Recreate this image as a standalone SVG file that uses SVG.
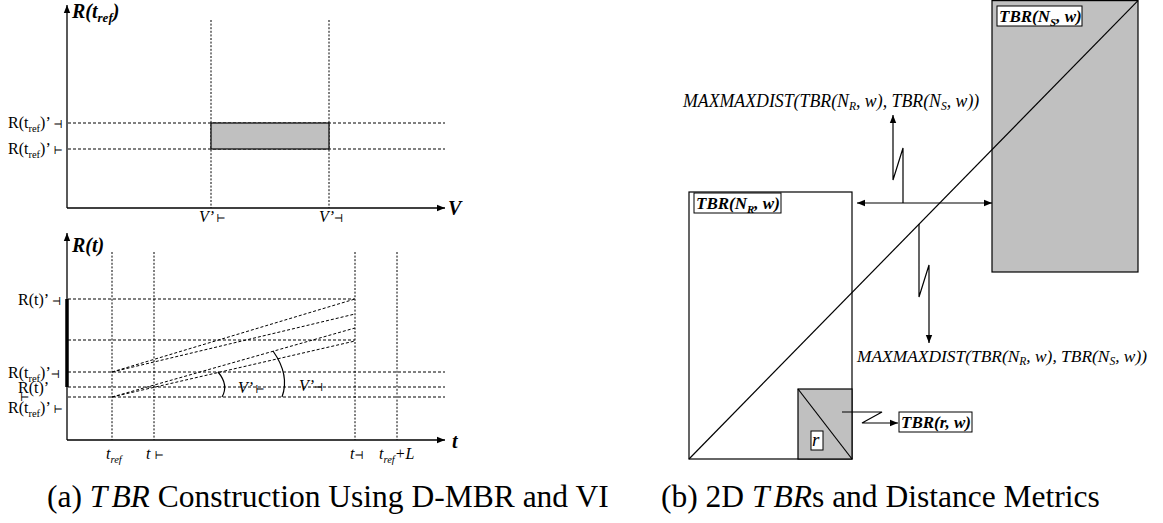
<svg xmlns="http://www.w3.org/2000/svg" width="1163" height="523" viewBox="0 0 1163 523" font-family="'Liberation Serif', 'Times New Roman', 'DejaVu Serif', serif">
<style>
.ax{stroke:#000;stroke-width:1.3;fill:none}
.dot{stroke:#000;stroke-width:1;stroke-dasharray:2,1.6;fill:none}
.dash{stroke:#000;stroke-width:1;stroke-dasharray:3,2;fill:none}
.ln{stroke:#000;stroke-width:1.2;fill:none}
.gray{fill:#c0c0c0;stroke:#000;stroke-width:1.2}
.box{fill:#fff;stroke:#000;stroke-width:1}
text{font-family:'Liberation Serif','Times New Roman','DejaVu Serif',serif;fill:#000}
.it{font-style:italic}
.bi{font-style:italic;font-weight:bold}
.lab{font-size:16px}
.cap{font-size:31.5px}
.tk{font-size:11px;font-style:italic}
</style>
<defs>
<marker id="ah" viewBox="0 0 10 10" refX="10" refY="5" markerWidth="8" markerHeight="8" markerUnits="userSpaceOnUse" orient="auto-start-reverse">
<path d="M0,1 L10,5 L0,9 z" fill="#000"/>
</marker>
</defs>

<g id="plot-top">
<line class="ax" x1="67" y1="208" x2="67" y2="5" marker-end="url(#ah)"/>
<line class="ax" x1="67" y1="208" x2="445" y2="208" marker-end="url(#ah)"/>
<line class="dot" x1="211" y1="20" x2="211" y2="208"/>
<line class="dot" x1="329" y1="20" x2="329" y2="208"/>
<line class="dash" x1="68" y1="123" x2="445" y2="123"/>
<line class="dash" x1="68" y1="149" x2="445" y2="149"/>
<rect class="gray" x="211" y="123" width="118" height="26"/>
<text class="bi" x="72" y="18" font-size="20">R(t<tspan font-size="13" dy="4">ref</tspan><tspan dy="-4">)</tspan></text>
<text class="bi" x="448" y="215" font-size="20">V</text>
<text class="lab" x="8" y="128">R(t<tspan font-size="10.5" dy="4">ref</tspan><tspan dy="-4">)’ </tspan><tspan class="tk">⊣</tspan></text>
<text class="lab" x="8" y="154">R(t<tspan font-size="10.5" dy="4">ref</tspan><tspan dy="-4">)’ </tspan><tspan class="tk">⊢</tspan></text>
<text class="lab it" x="199" y="222">V’ <tspan class="tk">⊢</tspan></text>
<text class="lab it" x="319" y="222">V’<tspan class="tk">⊣</tspan></text>
</g>

<g id="plot-bottom">
<line class="ax" x1="67" y1="440" x2="67" y2="233" marker-end="url(#ah)"/>
<line class="ax" x1="67" y1="440" x2="445" y2="440" marker-end="url(#ah)"/>
<line class="dot" x1="112" y1="252" x2="112" y2="440"/>
<line class="dot" x1="154" y1="252" x2="154" y2="440"/>
<line class="dot" x1="355" y1="252" x2="355" y2="440"/>
<line class="dot" x1="397" y1="252" x2="397" y2="440"/>
<line class="dash" x1="68" y1="299" x2="355" y2="299"/>
<line class="dash" x1="68" y1="340" x2="355" y2="340"/>
<line class="dash" x1="68" y1="372" x2="445" y2="372"/>
<line class="dash" x1="68" y1="387" x2="445" y2="387"/>
<line class="dash" x1="68" y1="397" x2="445" y2="397"/>
<line x1="67" y1="299" x2="67" y2="387" stroke="#000" stroke-width="3.5"/>
<line class="dash" x1="112" y1="372" x2="355" y2="299"/>
<line class="dash" x1="112" y1="372" x2="355" y2="314"/>
<line class="dash" x1="112" y1="397" x2="355" y2="328"/>
<line class="dash" x1="112" y1="397" x2="355" y2="341"/>
<path class="ln" d="M218,372 Q229,385 222,397"/>
<path class="ln" d="M273,351 Q290,375 282,397"/>
<text class="bi" x="72" y="252" font-size="20">R(t)</text>
<text class="bi" x="452" y="448" font-size="20">t</text>
<text class="lab" x="18" y="305">R(t)’ <tspan class="tk">⊣</tspan></text>
<text class="lab" x="8" y="378">R(t<tspan font-size="10.5" dy="4">ref</tspan><tspan dy="-4">)’</tspan><tspan class="tk">⊣</tspan></text>
<text class="lab" x="18" y="393">R(t)’</text>
<text class="tk" x="20" y="401" font-size="10">⊢</text>
<text class="lab" x="8" y="413">R(t<tspan font-size="10.5" dy="4">ref</tspan><tspan dy="-4">)’ </tspan><tspan class="tk">⊢</tspan></text>
<text class="lab it" x="238" y="393">V’ <tspan class="tk">⊢</tspan></text>
<text class="lab it" x="299" y="391">V’<tspan class="tk">⊣</tspan></text>
<text class="lab it" x="106" y="459">t<tspan font-size="10.5" dy="4">ref</tspan></text>
<text class="lab it" x="146" y="459">t <tspan class="tk">⊢</tspan></text>
<text class="lab it" x="350" y="459">t<tspan class="tk">⊣</tspan></text>
<text class="lab it" x="379" y="459">t<tspan font-size="10.5" dy="4">ref</tspan><tspan dy="-4">+L</tspan></text>
</g>

<g id="tbr-ns">
<rect class="gray" x="992" y="0.6" width="146" height="271.4"/>
<rect class="box" x="997" y="6" width="85" height="20"/>
<text class="bi" x="999" y="22" font-size="17">TBR(N<tspan font-size="11" dy="4">S</tspan><tspan dy="-4">, w)</tspan></text>
</g>

<g id="tbr-nr">
<rect x="689" y="192" width="163" height="267" fill="#fff" stroke="#000" stroke-width="1.2"/>
<rect class="box" x="694" y="193" width="87" height="20"/>
<text class="bi" x="696" y="209" font-size="17">TBR(N<tspan font-size="11" dy="4">R</tspan><tspan dy="-4">, w)</tspan></text>
</g>

<g id="tbr-r">
<rect class="gray" x="798" y="389" width="54" height="70"/>
<line class="ln" x1="798" y1="389" x2="852" y2="459"/>
<rect class="box" x="811" y="431" width="12" height="19"/>
<text class="it" x="812" y="446" font-size="19">r</text>
</g>

<g id="label-tbr-rw">
<rect class="box" x="899" y="412" width="73" height="20"/>
<text class="bi" x="901" y="428" font-size="17">TBR(r, w)</text>
</g>

<g id="label-maxmax-top">
<text class="it" x="683" y="107" font-size="17.8">MAXMAXDIST(TBR(N<tspan font-size="11.5" dy="3">R</tspan><tspan dy="-3">, w), TBR(N</tspan><tspan font-size="11.5" dy="3">S</tspan><tspan dy="-3">, w))</tspan></text>
</g>

<g id="label-maxmax-bottom">
<text class="it" x="857" y="362" font-size="17.4">MAXMAXDIST(TBR(N<tspan font-size="11.5" dy="3">R</tspan><tspan dy="-3">, w), TBR(N</tspan><tspan font-size="11.5" dy="3">S</tspan><tspan dy="-3">, w))</tspan></text>
</g>

<g id="connectors">
<line class="ln" x1="689" y1="459" x2="1138" y2="0.6"/>
<line class="ln" x1="857" y1="203" x2="992" y2="203" marker-start="url(#ah)" marker-end="url(#ah)"/>
<path class="ln" d="M903,203 V148 L893,180 V115" marker-end="url(#ah)"/>
<path class="ln" d="M919,224 V297 L929,265 V343" marker-end="url(#ah)"/>
<path class="ln" d="M842,412 H882 L862,423 H898" marker-end="url(#ah)"/>
</g>

<g id="captions">
<text class="cap" x="47" y="507">(a) <tspan class="it">T</tspan><tspan class="it" dx="4">BR</tspan> Construction Using D-MBR and VI</text>
<text class="cap" x="661" y="507">(b) 2D <tspan class="it">T</tspan><tspan class="it" dx="4">BR</tspan>s and Distance Metrics</text>
</g>
</svg>
